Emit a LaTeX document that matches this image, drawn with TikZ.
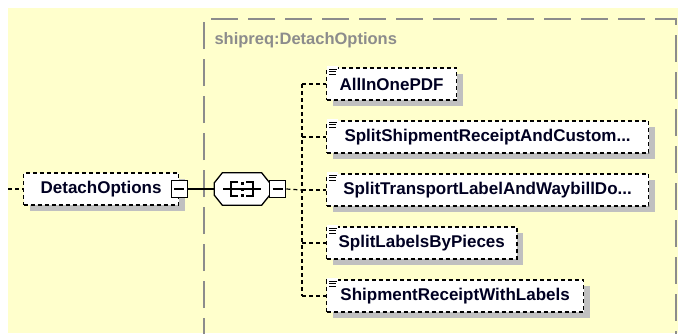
\documentclass[tikz,border=0pt]{standalone}
\usepackage{fontspec}
\setmainfont{Liberation Sans}
\usetikzlibrary{shadows}

\definecolor{bgyellow}{HTML}{FFFFCC}
\definecolor{shadowgrey}{HTML}{C0C0C0}
\definecolor{framegrey}{HTML}{8C8C8C}
\definecolor{textnavy}{HTML}{000022}

\tikzset{
  boxshadow/.style={general shadow={fill=shadowgrey, shadow xshift=6pt, shadow yshift=-6pt}},
  elem/.style={draw, fill=white, dash pattern=on 4pt off 3pt, line width=1.2pt,
    minimum height=32, inner xsep=12pt, anchor=west, boxshadow,
    text=textnavy, font=\fontsize{17}{20}\selectfont\bfseries},
  minusbox/.style={draw, fill=white, line width=1.4pt, minimum width=16, minimum height=17,
    inner sep=0pt, path picture={\draw[line width=1.2pt]
      ([xshift=3pt]path picture bounding box.west) -- ([xshift=-3pt]path picture bounding box.east);}},
  conn/.style={line width=1.2pt, dash pattern=on 4pt off 3pt},
}

\newcommand\elemicon[1]{%
  \fill[white] ([shift={(1,-1)}]#1.north west) rectangle ++(11,9);
  \draw[line width=0.9pt] ([shift={(3,2)}]#1.north west) -- ++(8,0)
    ([shift={(3,4.5)}]#1.north west) -- ++(7,0)
    ([shift={(3,7)}]#1.north west) -- ++(7,0);}

% octagon round a node, cut 8 across and 10 down
\newcommand\octagon[2]{%
  \path[#2] ([xshift=8pt]#1.north west) -- ([xshift=-8pt]#1.north east)
    -- ([yshift=-10pt]#1.north east) -- ([yshift=10pt]#1.south east)
    -- ([xshift=-8pt]#1.south east) -- ([xshift=8pt]#1.south west)
    -- ([yshift=10pt]#1.south west) -- ([yshift=-10pt]#1.north west) -- cycle;}

\begin{document}
\begin{tikzpicture}[x=1pt, y=-1pt]
	\useasboundingbox (0, 0) rectangle (678, 333);
	\clip (0, 0) rectangle (678, 333);
	\fill [bgyellow] (8, 8) rectangle (678, 333);
	% type frame
	\draw [framegrey, line width=2pt, dash pattern=on 27pt off 10pt]
		(204, 345) -- (204, 19) -- (676, 19) -- (676, 345);
	\node [anchor=west, text=framegrey, font=\fontsize{16.5}{20}\selectfont\bfseries]
		(typename) at (211, 40) {shipreq:DetachOptions};

	% parent element
	\coordinate (stub) at (8, 189);
	\node [elem, minimum width=155] (detach) at (23, 189) {DetachOptions};
	\node [minusbox] (dminus) at (detach.east) {};
	\draw [conn] (stub) -- (detach.west);

	% sequence compositor
	\node [minimum width=55, minimum height=32, inner sep=0pt] (seq) at (242, 189) {};
	\begin{scope}[shift={(6, 6)}]
		\octagon{seq}{fill=shadowgrey}
	\end{scope}
	\octagon{seq}{draw, fill=white, line width=1.3pt}
	\begin{scope}[shift={(seq.center)}, line width=1.2pt]
		\draw (-19, 0) -- (19, 0);
		\draw (-4, -7) -- (-11, -7) -- (-11, 7) -- (-4, 7);
		\draw (4, -7) -- (11, -7) -- (11, 7) -- (4, 7);
		\foreach \dy in {-6, 0, 6}
			\fill (-1.5, \dy-1.5) rectangle (1.5, \dy+1.5);
	\end{scope}
	\node [minusbox] (sminus) at ([xshift=8pt]seq.east) {};
	\draw [line width=1.2pt] (dminus.east) -- (seq.west);

	% children
	\node [elem, minimum width=130] (allinone) at (326, 84) {AllInOnePDF};
	\node [elem, minimum width=322] (splitship) at (326, 137) {SplitShipmentReceiptAndCustom...};
	\node [elem, minimum width=322] (splittrans) at (326, 190) {SplitTransportLabelAndWaybillDo...};
	\node [elem, minimum width=186] (splitpieces) at (326, 243) {SplitLabelsByPieces};
	\node [elem, minimum width=257] (shiprec) at (326, 296) {ShipmentReceiptWithLabels};
	\foreach \c in {allinone, splitship, splittrans, splitpieces, shiprec}
		\elemicon{\c};

	% tree connectors
	\coordinate (trunk) at (302, 190);
	\draw [conn] (sminus.east) -- (trunk);
	\draw [conn] (trunk |- allinone.west) -- (trunk |- shiprec.west);
	\foreach \c in {allinone, splitship, splittrans, splitpieces, shiprec}
		\draw [conn] (trunk |- \c.west) -- (\c.west);
\end{tikzpicture}
\end{document}
